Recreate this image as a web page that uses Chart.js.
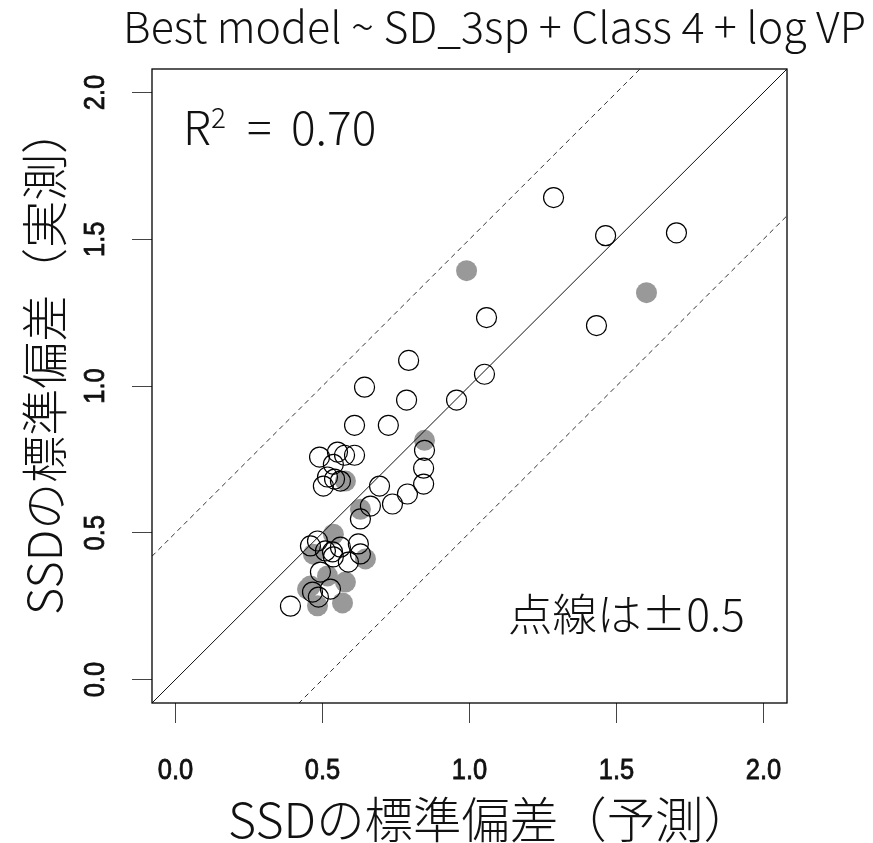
<!DOCTYPE html>
<html><head><meta charset="utf-8">
<script src="https://cdn.jsdelivr.net/npm/chart.js@4/dist/chart.umd.min.js"></script>
<style>html,body{margin:0;padding:0;background:#fff;}#wrap{width:873px;height:843px;}</style>
</head><body><div id="wrap"><canvas id="c" width="873" height="843"></canvas></div>
<script>
// ---- data (predicted SD on x, observed SD on y) ----
const openX = [1.286,1.463,1.704,1.432,1.058,1.051,0.793,0.956,0.643,0.786,0.724,0.609,0.847,0.844,0.844,0.694,0.789,0.738,0.663,0.629,0.622,0.629,0.490,0.551,0.575,0.609,0.537,0.517,0.541,0.561,0.503,0.483,0.459,0.510,0.534,0.561,0.537,0.588,0.493,0.527,0.466,0.486,0.391];
const openY = [1.642,1.512,1.522,1.206,1.233,1.040,1.087,0.952,0.996,0.952,0.866,0.866,0.781,0.720,0.666,0.659,0.632,0.598,0.591,0.547,0.462,0.428,0.758,0.775,0.764,0.764,0.733,0.690,0.683,0.676,0.659,0.472,0.455,0.438,0.435,0.451,0.418,0.400,0.366,0.308,0.298,0.281,0.250];
const grayX = [0.990,1.602,0.847,0.578,0.629,0.537,0.469,0.646,0.578,0.517,0.459,0.449,0.568,0.483];
const grayY = [1.393,1.318,0.815,0.676,0.580,0.495,0.427,0.411,0.332,0.353,0.319,0.308,0.261,0.251];
const tickValues = [0, 0.5, 1.0, 1.5, 2.0];
const tickLabels = ['0.0', '0.5', '1.0', '1.5', '2.0'];
const axisRange = [-0.08, 2.08];
const refOffsets = [0, 0.5, -0.5];
const titleText = 'Best model ~ SD_3sp + Class 4 + log VP';
const xTitle = 'SSDの標準偏差（予測）';
const yTitle = 'SSDの標準偏差（実測）';
const r2Value = '0.70';
const noteText = '点線は±0.5';

const CJK = '"Noto Sans CJK JP", "Noto Sans", sans-serif';
const ARIAL = '"Liberation Sans", Arial, sans-serif';

const toPts = (xs, ys) => xs.map((x, i) => ({x: x, y: ys[i]}));

const refSets = refOffsets.map(off => ({
  data: axisRange.map(v => ({x: v, y: v + off})),
  showLine: true,
  borderColor: off === 0 ? '#111' : '#333',
  borderWidth: 1,
  borderDash: off === 0 ? [] : [5, 4],
  pointRadius: 0,
  clip: 0,
  order: 0
}));

function fitFont(ctx, text, family, weight, targetW, base) {
  ctx.font = weight + ' ' + base + 'px ' + family;
  const w = ctx.measureText(text).width;
  return base * targetW / w;
}

const decor = {
  id: 'decor',
  afterDraw(chart) {
    const ctx = chart.ctx, a = chart.chartArea, xs = chart.scales.x, ys = chart.scales.y;
    ctx.save();
    // box
    ctx.strokeStyle = '#000'; ctx.lineWidth = 1.3;
    ctx.strokeRect(a.left, a.top, a.right - a.left, a.bottom - a.top);
    // tick labels (narrowed, slightly heavy Arial-like, as in the R device)
    ctx.fillStyle = '#111'; ctx.strokeStyle = '#111'; ctx.lineWidth = 0.8;
    ctx.font = '29px ' + ARIAL;
    ctx.textAlign = 'center'; ctx.textBaseline = 'middle';
    tickValues.forEach((v, i) => {
      const px = xs.getPixelForValue(v);
      ctx.save(); ctx.translate(px, 771); ctx.scale(0.88, 1);
      ctx.fillText(tickLabels[i], 0, 0); ctx.strokeText(tickLabels[i], 0, 0); ctx.restore();
      const py = ys.getPixelForValue(v);
      ctx.save(); ctx.translate(96, py); ctx.rotate(-Math.PI / 2); ctx.scale(0.88, 1);
      ctx.fillText(tickLabels[i], 0, 0); ctx.strokeText(tickLabels[i], 0, 0); ctx.restore();
    });
    // title
    ctx.fillStyle = '#111';
    let fs = fitFont(ctx, titleText, CJK, '300', 743, 36);
    ctx.font = '300 ' + fs + 'px ' + CJK;
    ctx.textAlign = 'center'; ctx.textBaseline = 'alphabetic';
    ctx.fillText(titleText, 494.5, 43);
    // axis titles
    fs = fitFont(ctx, xTitle, CJK, '300', 524, 44);
    ctx.font = '300 ' + fs + 'px ' + CJK;
    ctx.fillText(xTitle, 490, 838);
    ctx.font = '300 ' + (fs * 0.97) + 'px ' + CJK;
    ctx.save(); ctx.translate(62, 361); ctx.rotate(-Math.PI / 2);
    ctx.fillText(yTitle, 0, 0); ctx.restore();
    // R^2
    ctx.textAlign = 'left';
    ctx.font = '300 46px ' + CJK;
    ctx.fillText('R', 183, 145);
    ctx.font = '300 28px ' + CJK;
    ctx.fillText('2', 211, 128);
    ctx.font = '300 46px ' + CJK;
    ctx.fillText('=', 247, 145);
    ctx.fillText(r2Value, 291, 145);
    // note
    fs = fitFont(ctx, noteText, CJK, '300', 237, 44);
    ctx.font = '300 ' + fs + 'px ' + CJK;
    ctx.fillText(noteText, 508, 631);
    ctx.restore();
  }
};

new Chart(document.getElementById('c'), {
  type: 'scatter',
  data: {
    datasets: [
      ...refSets,
      { data: toPts(openX, openY), pointRadius: 10, pointHoverRadius: 10,
        borderColor: '#000', borderWidth: 1.2, backgroundColor: 'rgba(0,0,0,0)', order: 1 },
      { data: toPts(grayX, grayY), pointRadius: 10.5, pointHoverRadius: 10.5,
        borderColor: '#999', borderWidth: 0, backgroundColor: '#999', order: 2 }
    ]
  },
  options: {
    responsive: false, animation: false, devicePixelRatio: 1, events: [],
    layout: { padding: { top: 69, right: 86, left: 0, bottom: 0 } },
    plugins: { legend: { display: false }, tooltip: { enabled: false }, title: { display: false } },
    scales: {
      x: {
        type: 'linear', min: axisRange[0], max: axisRange[1],
        afterBuildTicks: s => { s.ticks = tickValues.map(v => ({value: v})); },
        afterFit: s => { s.height = 140; },
        border: { display: false },
        grid: { drawOnChartArea: false, drawTicks: true, tickLength: 20, color: '#444', lineWidth: 1 },
        ticks: { display: false }
      },
      y: {
        type: 'linear', min: axisRange[0], max: axisRange[1],
        afterBuildTicks: s => { s.ticks = tickValues.map(v => ({value: v})); },
        afterFit: s => { s.width = 152; },
        border: { display: false },
        grid: { drawOnChartArea: false, drawTicks: true, tickLength: 20, color: '#444', lineWidth: 1 },
        ticks: { display: false }
      }
    }
  },
  plugins: [decor]
});
</script></body></html>
